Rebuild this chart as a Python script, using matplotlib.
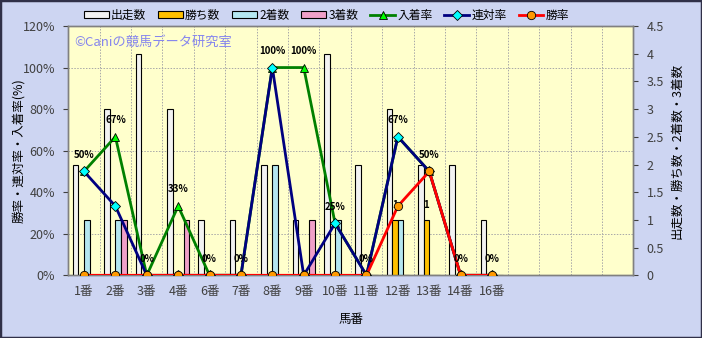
import numpy as np
import matplotlib
matplotlib.use("Agg")
import matplotlib.pyplot as plt
from matplotlib.patches import Rectangle

plt.rcParams['font.family'] = ['Noto Sans CJK JP', 'DejaVu Sans']

# ---- data ----
categories = ["1番", "2番", "3番", "4番", "6番", "7番", "8番", "9番", "10番",
              "11番", "12番", "13番", "14番", "16番"]
n_slots = 18
runs = [2, 3, 4, 3, 1, 1, 2, 1, 4, 2, 3, 2, 2, 1]          # 出走数
wins = [0, 0, 0, 0, 0, 0, 0, 0, 0, 0, 1, 1, 0, 0]          # 勝ち数
seconds = [1, 1, 0, 0, 0, 0, 2, 0, 1, 0, 1, 0, 0, 0]       # 2着数
thirds = [0, 1, 0, 1, 0, 0, 0, 1, 0, 0, 0, 0, 0, 0]        # 3着数
place_rate = [50, 66.7, 0, 33.3, 0, 0, 100, 100, 25, 0, 66.7, 50, 0, 0]  # 入着率
quin_rate = [50, 33.3, 0, 0, 0, 0, 100, 0, 25, 0, 66.7, 50, 0, 0]        # 連対率
win_rate = [0, 0, 0, 0, 0, 0, 0, 0, 0, 0, 33.3, 50, 0, 0]                # 勝率

W, H = 702, 338
fig = plt.figure(figsize=(W / 100, H / 100), dpi=100)
fig.patch.set_facecolor('#CDD5F2')
fig.patches.append(Rectangle((0, 0), 1, 1, transform=fig.transFigure, fill=False,
                             edgecolor='#303048', linewidth=2.5))

left, right, top, bottom = 68.3, 633.3, 26, 275.3
aw = right - left
ax = fig.add_axes([left / W, (H - bottom) / H, aw / W, (bottom - top) / H])
ax.set_facecolor('#FFFFCC')
ax2 = ax.twinx()
ax2.patch.set_visible(False)

x = np.arange(len(categories))
bw = 0.178
bar_specs = [
    (runs, '出走数', '#F2F2F2', -1.5),
    (wins, '勝ち数', '#FFC000', -0.5),
    (seconds, '2着数', '#B4E6F0', 0.5),
    (thirds, '3着数', '#F0A0C8', 1.5),
]
bar_handles = []
for vals, lab, col, k in bar_specs:
    b = ax.bar(x + k * bw, vals, width=bw, color=col, edgecolor='black', linewidth=0.8,
               label=lab, zorder=3)
    bar_handles.append(b)

# labels on 勝ち数 bars
for i, v in enumerate(wins):
    if v > 0:
        ax.annotate(str(v), (i - 0.5 * bw, v), xytext=(0, 11), textcoords='offset points',
                    ha='center', va='center', fontsize=7, fontweight='bold', zorder=6)

ax.set_xlim(-0.5, n_slots - 0.5)
ax.set_ylim(0, 4.5)
ax.yaxis.tick_right()
ax.yaxis.set_label_position('right')
ax.set_yticks(np.arange(0, 4.51, 0.5))
ax.set_yticklabels([f"{v:g}" for v in np.arange(0, 4.51, 0.5)])
ax.set_yticks(np.arange(0.75, 4.5, 0.75), minor=True)
ax.set_xticks(x)
ax.set_xticklabels(categories)
ax.set_xticks(np.arange(-0.5, n_slots, 1), minor=True)
ax.grid(which='minor', color='#A8A8A8', linestyle=(0, (1.5, 1.5)), linewidth=0.7, zorder=0)
ax.set_axisbelow(True)
ax.tick_params(axis='x', which='both', length=0, labelsize=9, colors='#404040', pad=7)
ax.tick_params(axis='y', which='major', length=3.5, labelsize=9, colors='#404040',
               direction='out', pad=6)
ax.tick_params(axis='y', which='minor', length=0)
ax.set_ylabel('出走数・勝ち数・2着数・3着数', fontsize=9, rotation=90)
ax.yaxis.set_label_coords((670 - left) / aw, 0.5)
ax.set_xlabel('馬番', fontsize=9, labelpad=11)

# lines
l1, = ax2.plot(x, place_rate, color='#008000', linewidth=2, marker='^', markersize=6,
               markerfacecolor='#00FF00', markeredgecolor='black', markeredgewidth=0.6,
               label='入着率', zorder=4)
l2, = ax2.plot(x, quin_rate, color='#000080', linewidth=2, marker='D', markersize=5,
               markerfacecolor='#00FFFF', markeredgecolor='black', markeredgewidth=0.6,
               label='連対率', zorder=5)
l3, = ax2.plot(x, win_rate, color='#FF0000', linewidth=2, marker='o', markersize=6,
               markerfacecolor='#FF9900', markeredgecolor='black', markeredgewidth=0.6,
               label='勝率', zorder=6)
for i, v in enumerate(place_rate):
    ax2.annotate(f"{round(v)}%", (i, v), xytext=(0, 12), textcoords='offset points',
                 ha='center', va='center', fontsize=7, fontweight='bold', zorder=7)

ax2.set_ylim(0, 120)
ax2.yaxis.tick_left()
ax2.yaxis.set_label_position('left')
ax2.set_yticks(np.arange(0, 121, 20))
ax2.set_yticklabels([f"{v}%" for v in range(0, 121, 20)])
ax2.tick_params(axis='y', length=3.5, labelsize=9, colors='#404040', direction='out', pad=6)
ax2.set_ylabel('勝率・連対率・入着率(%)', fontsize=9)
ax2.yaxis.set_label_coords((25 - left) / aw, 0.5)
ax2.grid(False)

for a in (ax, ax2):
    for s in a.spines.values():
        s.set_color('#808080')
        s.set_linewidth(1)

ax.text(0.01, 0.935, '©Caniの競馬データ研究室', transform=ax.transAxes, fontsize=9.5,
        color='#8585EE', ha='left', va='center', zorder=8)

handles = bar_handles + [l1, l2, l3]
labels = ['出走数', '勝ち数', '2着数', '3着数', '入着率', '連対率', '勝率']
fig.legend(handles, labels, loc='center', bbox_to_anchor=(326.5 / W, 1 - 15 / H), ncol=7,
           frameon=False, fontsize=8.5, handlelength=2.1, handleheight=0.5,
           columnspacing=1.0, handletextpad=0.2, borderaxespad=0)

fig.savefig('out.png', dpi=100, facecolor=fig.get_facecolor())
